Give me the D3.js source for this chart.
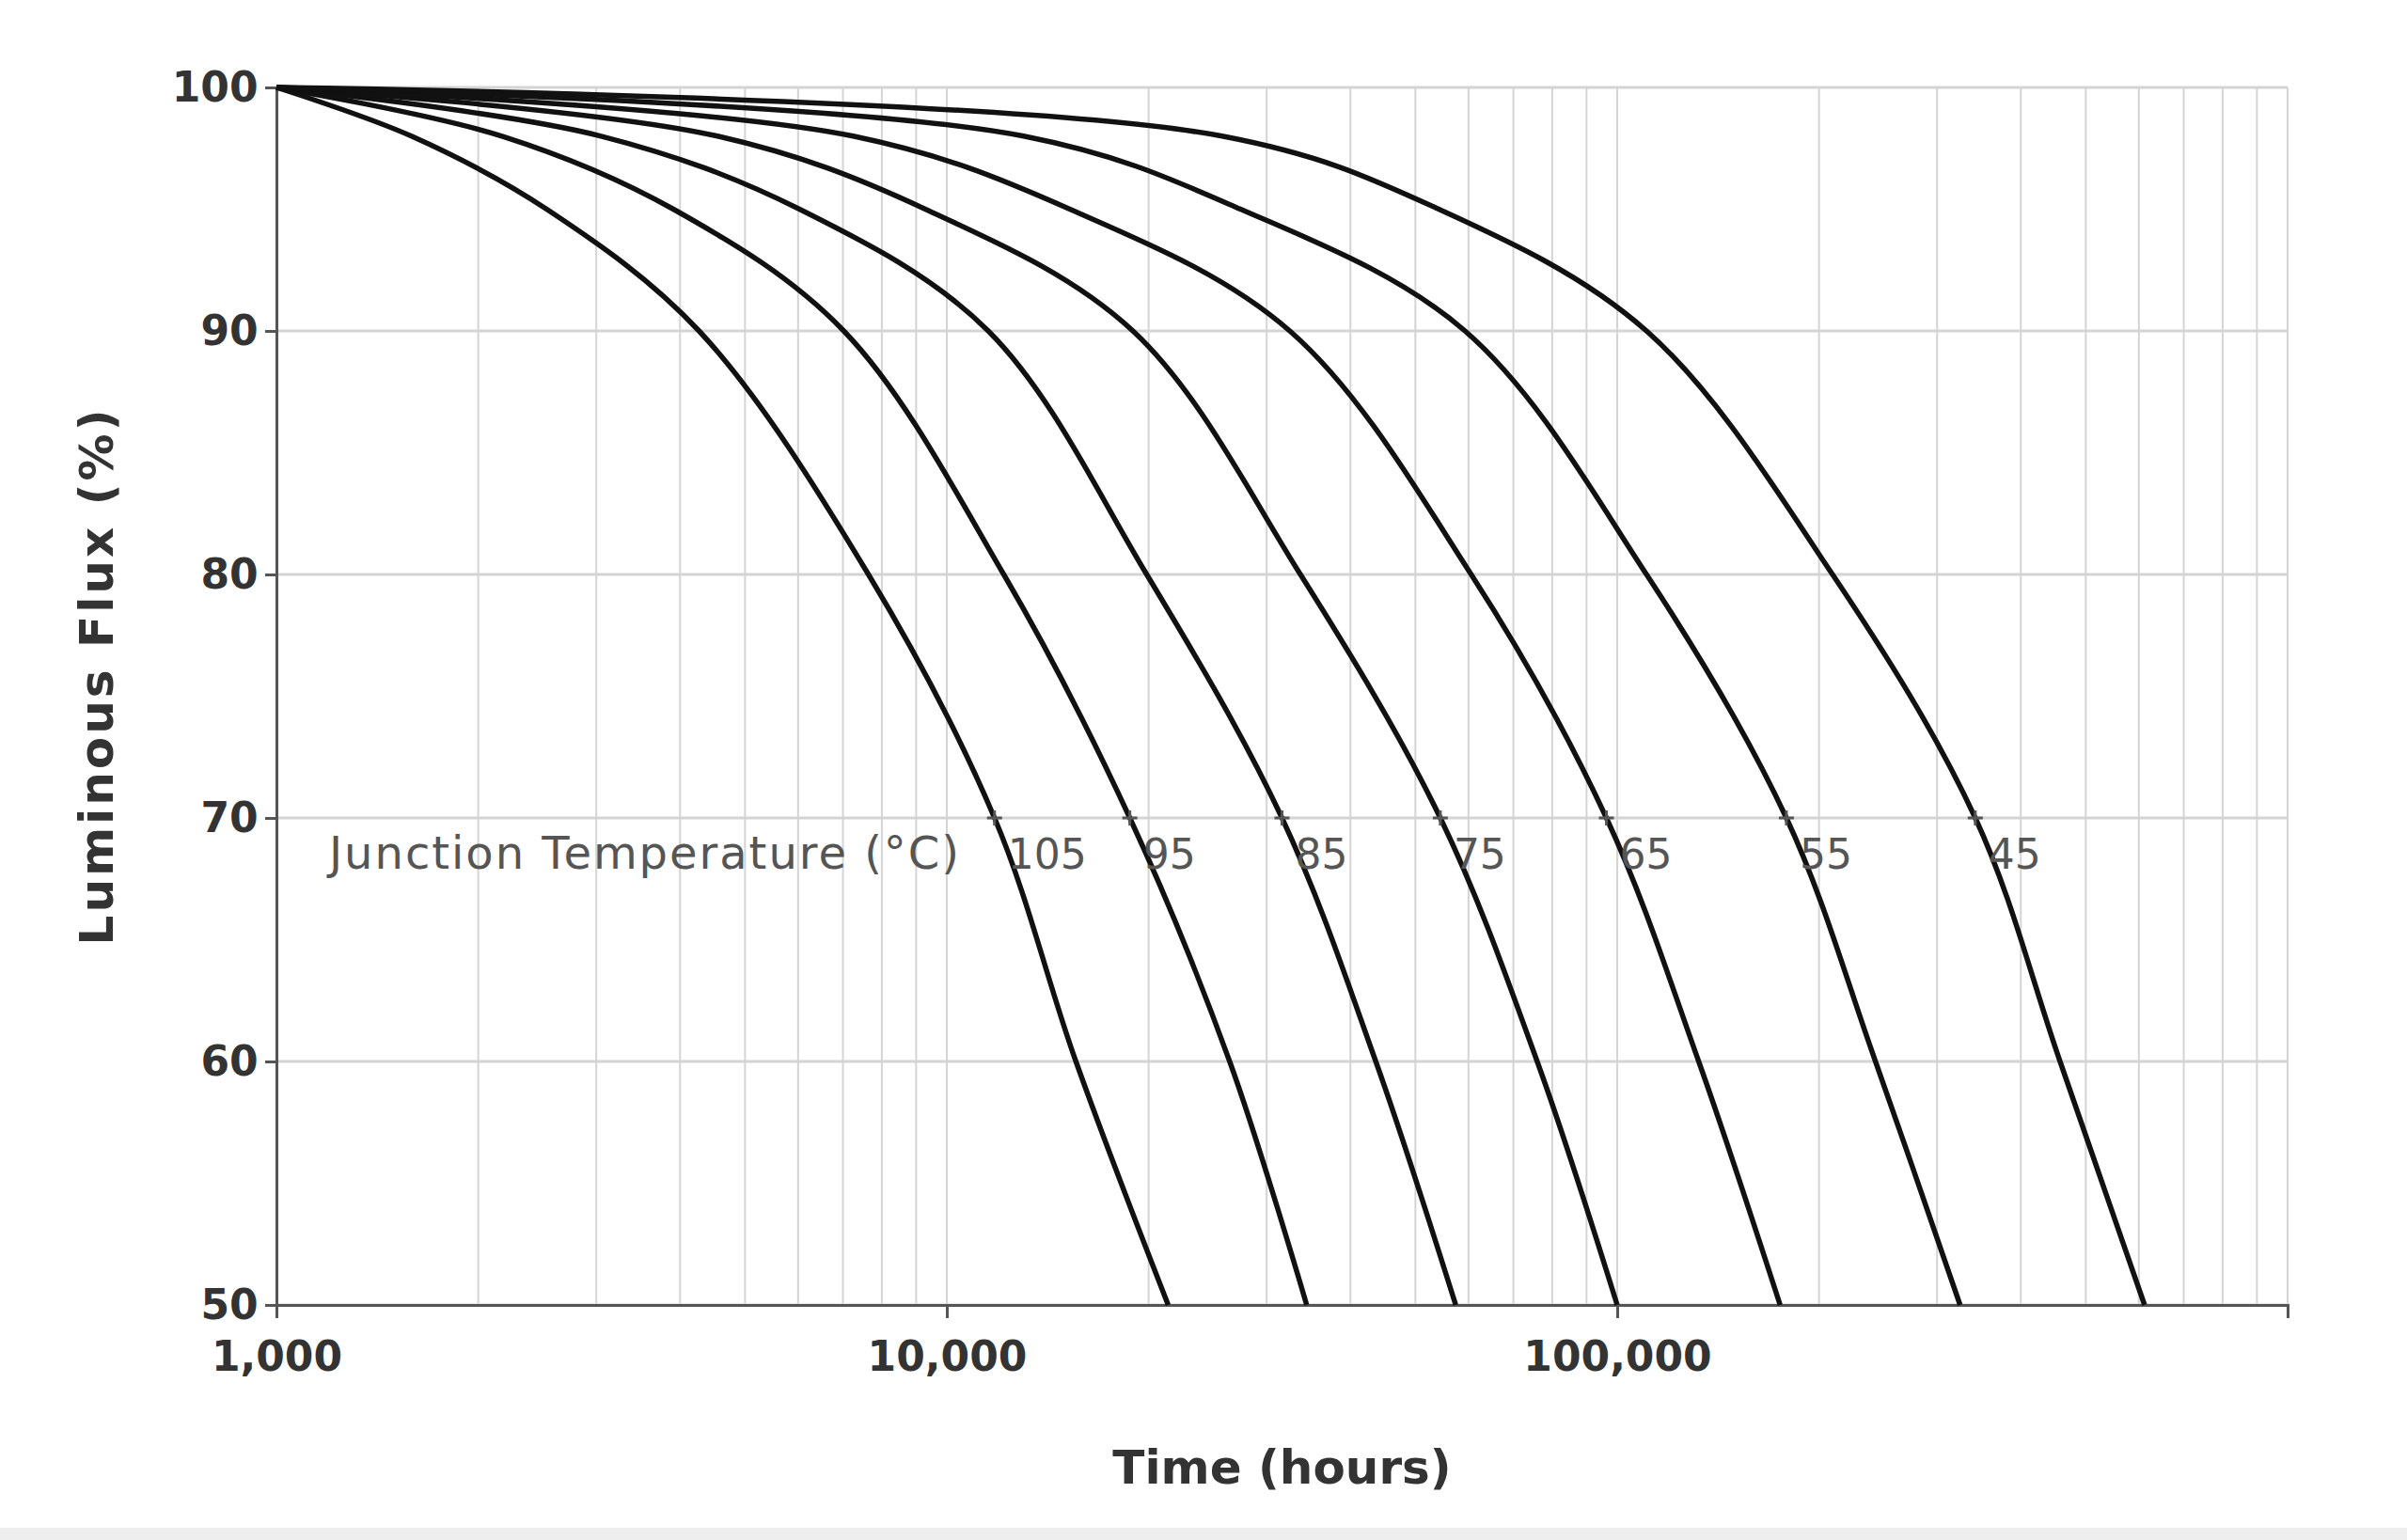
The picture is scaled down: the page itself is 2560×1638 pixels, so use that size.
<!DOCTYPE html>
<html><head><meta charset="utf-8">
<script src="https://cdn.jsdelivr.net/npm/d3@7"></script>
<style>
body{margin:0;background:#fff}
.tick text{font-family:'DejaVu Sans',sans-serif;font-weight:bold;fill:#333}
</style></head>
<body><svg id="vis"></svg>
<script>
// luminous flux levels (%) for each point of every curve
const fluxLevels = [100, 98, 95, 90, 80, 70, 60, 50];
// hours at which each junction-temperature curve reaches those levels
const temps = ["105", "95", "85", "75", "65", "55", "45"];
const hours105 = [1000, 1590, 2530, 4270, 7640, 11780, 15580, 21390];
const hours95 = [1000, 2170, 3910, 7020, 12160, 18750, 26420, 34420];
const hours85 = [1000, 3050, 6030, 11530, 19870, 31620, 43640, 57430];
const hours75 = [1000, 4550, 9290, 18950, 33690, 54470, 75970, 100000];
const hours65 = [1000, 7250, 15260, 32480, 60560, 96360, 132300, 175000];
const hours55 = [1000, 13020, 27430, 59290, 110600, 178800, 242800, 324700];
const hours45 = [1000, 25740, 54190, 110600, 209500, 342100, 457700, 611800];
const allHours = [hours105, hours95, hours85, hours75, hours65, hours55, hours45];
const yTicks = [50, 60, 70, 80, 90, 100];
const xTickLabels = [1000, 10000, 100000];

const W = 2560, H = 1638;
const margin = {top: 93, right: 127, bottom: 250, left: 294};
const svg = d3.select("#vis").attr("width", W).attr("height", H);

svg.append("rect").attr("x", 0).attr("y", 1625).attr("width", W).attr("height", 13).attr("fill", "#eeeeee");

const x = d3.scaleLog().domain([1000, 1000000]).range([margin.left, W - margin.right]);
const y = d3.scaleLinear().domain([50, 100]).range([H - margin.bottom, margin.top]);

// grid
svg.append("g").selectAll("line").data(x.ticks()).join("line")
    .attr("x1", d => x(d)).attr("x2", d => x(d))
    .attr("y1", y(100)).attr("y2", y(50))
    .attr("stroke", "#d4d4d4").attr("stroke-width", 2);
svg.append("g").selectAll("line").data(yTicks).join("line")
    .attr("x1", x(1000)).attr("x2", x(1000000))
    .attr("y1", d => y(d)).attr("y2", d => y(d))
    .attr("stroke", "#d4d4d4").attr("stroke-width", 3);

// axes
svg.append("g")
    .attr("transform", `translate(0,${y(50)})`)
    .call(d3.axisBottom(x).tickValues([1000, 10000, 100000, 1000000]).tickSize(14)
        .tickFormat(d => xTickLabels.includes(d) ? d3.format(",")(d) : ""))
    .call(g => g.selectAll("path,line").attr("stroke", "#555").attr("stroke-width", 3))
    .call(g => g.selectAll("text").attr("font-size", 44).attr("dy", "1.2em"));
svg.append("g")
    .attr("transform", `translate(${x(1000)},0)`)
    .call(d3.axisLeft(y).tickValues(yTicks).tickSize(12))
    .call(g => g.selectAll("path,line").attr("stroke", "#555").attr("stroke-width", 3))
    .call(g => g.selectAll("text").attr("font-size", 44).attr("dx", "-0.1em"));

svg.append("text").attr("x", (x(1000) + x(1000000)) / 2).attr("y", 1578)
    .attr("text-anchor", "middle").attr("font-family", "DejaVu Sans").attr("font-weight", "bold")
    .attr("font-size", 50).attr("fill", "#333").text("Time (hours)");
svg.append("text")
    .attr("transform", `translate(120,${(y(50) + y(100)) / 2 - 20}) rotate(-90)`)
    .attr("text-anchor", "middle").attr("font-family", "DejaVu Sans").attr("font-weight", "bold")
    .attr("font-size", 50).attr("textLength", 570).attr("fill", "#333").text("Luminous Flux (%)");

// curves
const line = d3.line().x(d => x(d[0])).y(d => y(d[1])).curve(d3.curveCatmullRom.alpha(0.5));
allHours.forEach((hrs, i) => {
    const pts = hrs.map((h, j) => [h, fluxLevels[j]]);
    svg.append("path").attr("d", line(pts)).attr("fill", "none")
        .attr("stroke", "#111").attr("stroke-width", 5.5);
    const at70 = hrs[fluxLevels.indexOf(70)];
    svg.append("path")
        .attr("d", `M${x(at70) - 8},${y(70)}h16M${x(at70)},${y(70) - 8}v16`)
        .attr("stroke", "#555").attr("stroke-width", 3);
    svg.append("text").attr("x", x(at70) + 14).attr("y", y(70) + 54)
        .attr("font-family", "DejaVu Sans").attr("font-size", 44).attr("fill", "#555")
        .text(temps[i]);
});

svg.append("text").attr("x", 350).attr("y", y(70) + 54)
    .attr("font-family", "DejaVu Sans").attr("font-size", 48).attr("textLength", 670).attr("fill", "#555")
    .text("Junction Temperature (°C)");
</script></body></html>
